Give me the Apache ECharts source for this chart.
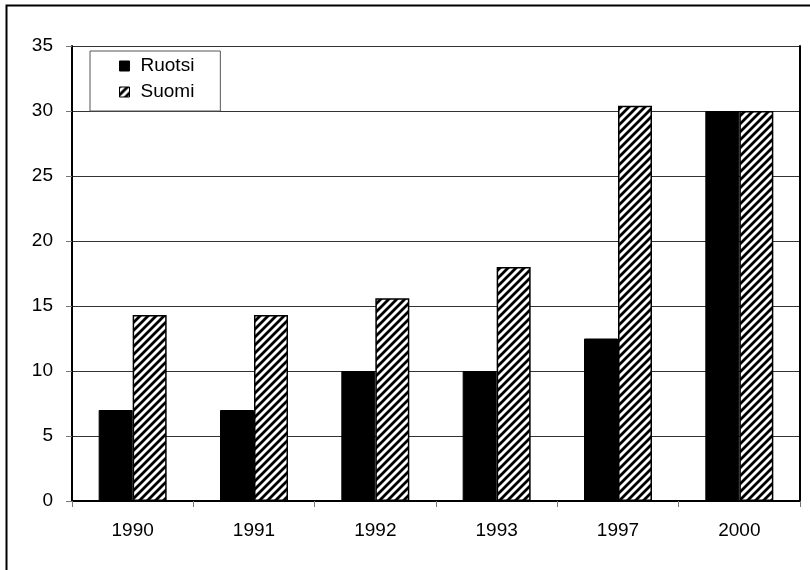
<!DOCTYPE html>
<html>
<head>
<meta charset="utf-8">
<script src="https://cdn.jsdelivr.net/npm/echarts@6/dist/echarts.min.js"></script>
<style>
html,body{margin:0;padding:0;background:#fff;}
#chart{width:810px;height:570px;}
</style>
</head>
<body>
<div id="chart"></div>
<script>
var categories = ['1990', '1991', '1992', '1993', '1997', '2000'];
var ruotsi = [7, 7, 10, 10, 12.5, 30];
var suomi = [14.3, 14.3, 15.6, 18, 30.4, 30];
var yTicks = [0, 5, 10, 15, 20, 25, 30, 35];

function makeHatch() {
  var c = document.createElement('canvas');
  c.width = 8; c.height = 8;
  var ctx = c.getContext('2d');
  ctx.fillStyle = '#fff';
  ctx.fillRect(0, 0, 8, 8);
  ctx.strokeStyle = '#000';
  ctx.lineWidth = 2.8;
  ctx.beginPath();
  ctx.moveTo(-2, 10); ctx.lineTo(10, -2);
  ctx.moveTo(-6, 6); ctx.lineTo(6, -6);
  ctx.moveTo(2, 14); ctx.lineTo(14, 2);
  ctx.stroke();
  return c;
}
var hatch = {image: makeHatch(), repeat: 'repeat'};

var font = "'Liberation Sans', Arial, sans-serif";
var chart = echarts.init(document.getElementById('chart'), null, {renderer: 'canvas'});
chart.setOption({
  animation: false,
  backgroundColor: '#fff',
  textStyle: {fontFamily: font},
  graphic: [{
    type: 'rect',
    shape: {x: 6.5, y: 5.5, width: 900, height: 900},
    style: {fill: 'none', stroke: '#000', lineWidth: 2},
    z: 100
  }],
  grid: {left: 72, right: 10, top: 46, bottom: 69},
  legend: {
    left: 90, top: 51,
    orient: 'vertical',
    icon: 'rect',
    itemWidth: 10, itemHeight: 10,
    itemGap: 6,
    padding: [5, 26, 9, 29],
    backgroundColor: '#fff',
    borderColor: '#555',
    borderWidth: 1,
    textStyle: {fontFamily: font, fontSize: 19, color: '#000', lineHeight: 20, padding: [0, 0, 0, 6]},
    itemStyle: {borderColor: '#000', borderWidth: 1},
    data: ['Ruotsi', 'Suomi']
  },
  xAxis: {
    type: 'category',
    data: categories,
    axisLine: {lineStyle: {color: '#000', width: 2}},
    axisTick: {show: true, length: 6, lineStyle: {color: '#777', width: 1}},
    axisLabel: {color: '#000', fontSize: 19, margin: 20, fontFamily: font},
    splitLine: {show: false}
  },
  yAxis: [{
    type: 'value',
    min: 0, max: 35, interval: 5,
    axisLine: {show: true, lineStyle: {color: '#000', width: 2}},
    axisTick: {show: true, length: 6, lineStyle: {color: '#777', width: 1}},
    axisLabel: {color: '#000', fontSize: 19, margin: 19, fontFamily: font,
      formatter: function (v) { return yTicks.indexOf(v) >= 0 ? String(v) : ''; }},
    splitLine: {show: true, lineStyle: {color: '#333', width: 1}}
  }, {
    type: 'value',
    position: 'right',
    min: 0, max: 35, interval: 5,
    axisLine: {show: true, lineStyle: {color: '#000', width: 2}},
    axisTick: {show: false},
    axisLabel: {show: false},
    splitLine: {show: false}
  }],
  series: [{
    name: 'Ruotsi',
    type: 'bar',
    data: ruotsi,
    barWidth: 34,
    barGap: '0%',
    itemStyle: {color: '#000', borderColor: '#000', borderWidth: 1}
  }, {
    name: 'Suomi',
    type: 'bar',
    data: suomi,
    barWidth: 34,
    barGap: '0%',
    itemStyle: {color: hatch, borderColor: '#000', borderWidth: 1.5}
  }]
});
</script>
</body>
</html>
